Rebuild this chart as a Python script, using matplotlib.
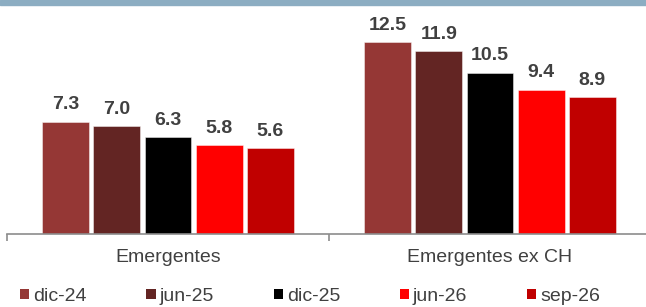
import matplotlib.pyplot as plt
import numpy as np
from matplotlib.patches import Patch, Rectangle

plt.rcParams['font.family'] = ['Liberation Sans', 'DejaVu Sans']

categories = ["Emergentes", "Emergentes ex CH"]
series = ["dic-24", "jun-25", "dic-25", "jun-26", "sep-26"]
values = [
    [7.3, 12.5],
    [7.0, 11.9],
    [6.3, 10.5],
    [5.8, 9.4],
    [5.6, 8.9],
]
colors = ["#953735", "#632523", "#000000", "#FF0000", "#C00000"]

W, H = 646, 307
fig = plt.figure(figsize=(W / 100, H / 100), dpi=100)

# franja azul superior
fig.patches.append(Rectangle((0, 1 - 5 / H), 1, 5 / H, transform=fig.transFigure,
                             color="#8CADC2", zorder=0))

ax = fig.add_axes([7 / W, (H - 234) / H, 644 / W, 230.5 / H])

x = np.arange(len(categories))
pitch = 0.159
width = 0.145
for i, (name, vals, c) in enumerate(zip(series, values, colors)):
    bars = ax.bar(x + (i - 2) * pitch, vals, width, color=c, label=name,
                  edgecolor=(1, 1, 1, 0.45), linewidth=0.7)
    ax.bar_label(bars, labels=[f"{v:.1f}" for v in vals], padding=6,
                 fontsize=14, fontweight="bold", color="#404040")

ax.set_xlim(-0.5, 1.5)
ax.set_ylim(0, 15)
for s in ["left", "right", "top"]:
    ax.spines[s].set_visible(False)
ax.spines["bottom"].set_color("#8c8c8c")
ax.spines["bottom"].set_linewidth(1.2)
ax.set_yticks([])
ax.set_xticks(x)
ax.set_xticklabels(categories, fontsize=14, color="#404040")
ax.tick_params(axis="x", which="major", length=0, pad=11)
ax.set_xticks([-0.5, 0.5, 1.5], minor=True)
ax.tick_params(axis="x", which="minor", length=5, width=1.2, color="#8c8c8c", direction="out")

handles = [Patch(facecolor=c, edgecolor="none", label=n) for n, c in zip(series, colors)]
fig.legend(handles=handles, loc="center left", bbox_to_anchor=(20 / W, 10.5 / H),
           ncol=5, frameon=False, fontsize=14, handlelength=0.47, handleheight=0.47,
           handletextpad=0.2, columnspacing=3.08, borderpad=0, borderaxespad=0,
           labelcolor="#404040")

fig.savefig("out.png", dpi=100)
